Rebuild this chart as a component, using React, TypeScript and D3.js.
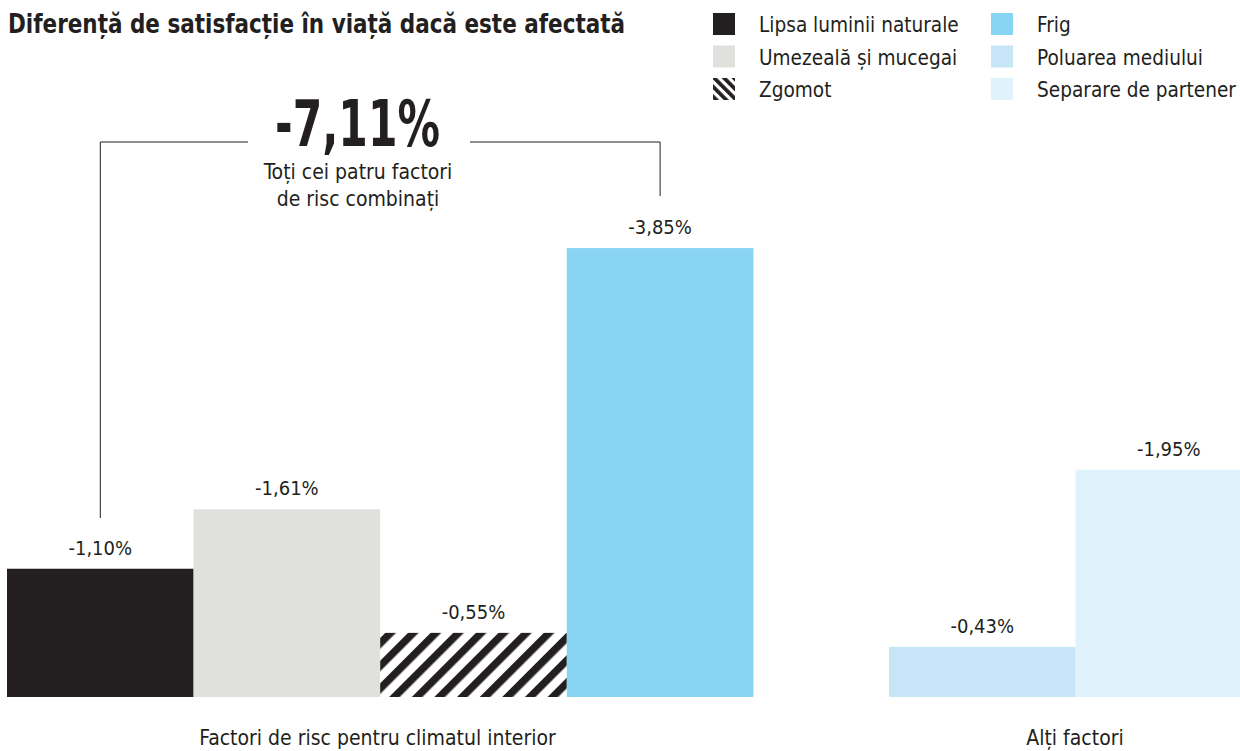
import React from "react";
import * as d3 from "d3";

const categories = ["Lipsa luminii naturale", "Umezeală și mucegai", "Zgomot", "Frig", "Poluarea mediului", "Separare de partener"];
const values = [-1.10, -1.61, -0.55, -3.85, -0.43, -1.95];
const valueLabels = ["-1,10%", "-1,61%", "-0,55%", "-3,85%", "-0,43%", "-1,95%"];
const groupOf = ["interior", "interior", "interior", "interior", "other", "other"];
const groupLabels = ["Factori de risc pentru climatul interior", "Alți factori"];
const colors = ["#231f20", "#e0e1dc", "url(#hatch)", "#89d3f3", "#c6e6f8", "#e0f2fc"];
const legendFills = ["#231f20", "#e0e1dc", "url(#hatchLegend)", "#89d3f3", "#c6e6f8", "#e0f2fc"];
const combinedLabel = "-7,11%";
const combinedNote = ["Toți cei patru factori", "de risc combinați"];
const title = "Diferență de satisfacție în viață dacă este afectată";

const FONT = "'DejaVu Sans Condensed', 'Liberation Sans', sans-serif";
const INK = "#231f20";

export default function App() {
  const baseY = 697;
  const y = d3.scaleLinear().domain([0, -4]).range([baseY, baseY - 466.4]);
  const interiorCats = categories.filter((_, i) => groupOf[i] === "interior");
  const otherCats = categories.filter((_, i) => groupOf[i] === "other");
  const x1 = d3.scaleBand<string>().domain(interiorCats).range([7, 753.4]).padding(0);
  const x2 = d3.scaleBand<string>().domain(otherCats).range([889, 1262]).padding(0);
  const xOf = (c: string, i: number) => (groupOf[i] === "interior" ? x1(c)! : x2(c)!);
  const bw = x1.bandwidth();

  const c0 = xOf(categories[0], 0) + bw / 2;
  const c3 = xOf(categories[3], 3) + bw / 2;
  const bracketY = 142;

  return (
    <svg width={1240} height={751} style={{ position: "absolute", left: 0, top: 0, background: "#fff" }} fontFamily={FONT}>
      <defs>
        <pattern id="hatch" patternUnits="userSpaceOnUse" width={16} height={16} patternTransform="rotate(45)">
          <rect width={16} height={16} fill="#fff" />
          <rect width={7.5} height={16} fill={INK} />
        </pattern>
        <pattern id="hatchLegend" patternUnits="userSpaceOnUse" width={7} height={7} patternTransform="rotate(-45)">
          <rect width={7} height={7} fill="#fff" />
          <rect width={3.8} height={7} fill={INK} />
        </pattern>
      </defs>

      <text x={8} y={33} fontSize={27} fontWeight="bold" fill={INK} textLength={617} lengthAdjust="spacingAndGlyphs">{title}</text>

      {categories.map((c, i) => {
        const col = i < 3 ? 0 : 1;
        const row = i % 3;
        const lx = col === 0 ? 713 : 991;
        const ly = 13 + row * 32.5;
        return (
          <g key={c}>
            <rect x={lx} y={ly} width={22} height={22} fill={legendFills[i]} />
            <text x={lx + 46} y={ly + 19} fontSize={20.6} fill={INK}>{c}</text>
          </g>
        );
      })}

      {categories.map((c, i) => {
        const x0 = xOf(c, i);
        const top = y(values[i]);
        return (
          <g key={c}>
            <rect x={x0} y={top} width={bw} height={baseY - top} fill={colors[i]} />
            <text x={x0 + bw / 2} y={top - 14} fontSize={20} textAnchor="middle" fill={INK}>{valueLabels[i]}</text>
          </g>
        );
      })}

      <path d={`M${c0},${518}V${bracketY}H${248}`} fill="none" stroke={INK} strokeWidth={1} />
      <path d={`M${470},${bracketY}H${c3}V${196}`} fill="none" stroke={INK} strokeWidth={1} />
      <text x={275} y={146} fontSize={64} fontWeight="bold" fill={INK} textLength={165} lengthAdjust="spacingAndGlyphs">{combinedLabel}</text>
      {combinedNote.map((t, k) => (
        <text key={t} x={358} y={179 + k * 27} fontSize={21} textAnchor="middle" fill={INK}>{t}</text>
      ))}

      <text x={377.5} y={745} fontSize={21} textAnchor="middle" fill={INK}>{groupLabels[0]}</text>
      <text x={1075} y={745} fontSize={21} textAnchor="middle" fill={INK}>{groupLabels[1]}</text>
    </svg>
  );
}
